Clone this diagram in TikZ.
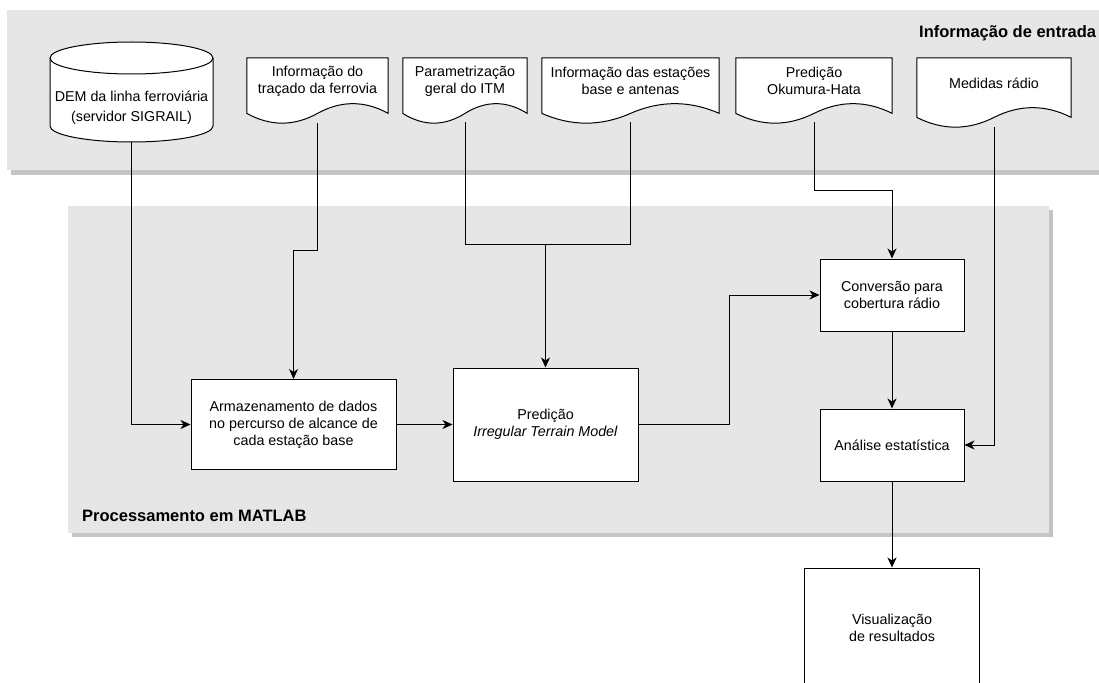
\documentclass[tikz,border=0pt]{standalone}
\usepackage{fontspec}
\setmainfont{Liberation Sans}
\usetikzlibrary{arrows.meta}

\definecolor{panelgray}{HTML}{E6E6E6}
\definecolor{shadowgray}{HTML}{C4C4C4}

\pgfdeclarelayer{panels}
\pgfdeclarelayer{shapes}
\pgfsetlayers{panels,shapes,main}

\newcommand{\boxfont}{\fontsize{14.3}{17}\selectfont}

\tikzset{
    proc/.style={draw, fill=white, line width=1pt, align=center, inner sep=0pt, font=\boxfont},
    doc/.style={align=center, anchor=north, minimum height=46pt, inner sep=2pt, font=\boxfont},
    title/.style={anchor=west, inner sep=0pt, font=\bfseries\fontsize{16.5}{20}\selectfont},
    flow/.style={line width=1pt, -{Stealth[length=10pt,width=9pt,inset=3pt]}},
    link/.style={line width=1pt}
}

% document symbol round node #1, #2 is a sixth of its width
\newcommand{\docshape}[2]{%
    \filldraw[fill=white, line width=1pt] (#1.north west) -- (#1.north east)
        -- ([yshift=-9pt]#1.south east)
        .. controls +(-#2,13) and +(#2,13) .. ([yshift=-9pt]#1.south)
        .. controls +(-#2,-13) and +(#2,-13) .. ([yshift=-9pt]#1.south west) -- cycle;}

\begin{document}
\begin{tikzpicture}[x=1pt, y=1pt]
            \useasboundingbox (0,0) rectangle (1099,-682);

            % input data
            \node[align=center, font=\boxfont] (dem) at (131.5,-108) {DEM da linha ferroviária\\[3pt](servidor SIGRAIL)};
            \coordinate (dembot) at (131.5,-142);

            \node[doc, minimum width=141pt] (tracado) at (317.5,-58) {Informação do\\traçado da ferrovia};
            \node[doc, minimum width=124pt] (param) at (465,-58) {Parametrização\\geral do ITM};
            \node[doc, minimum width=177pt] (estacoes) at (630.5,-58) {Informação das estações\\base e antenas};
            \node[doc, minimum width=156pt] (okumura) at (814,-58) {Predição\\Okumura-Hata};
            \node[doc, minimum width=154pt, minimum height=50pt] (medidas) at (994,-58) {Medidas rádio};

            \node[title] (entrada) at (919,-33) {Informação de entrada};

            % processing
            \node[proc, minimum width=205pt, minimum height=90pt] (armaz) at (293.5,-424.5) {Armazenamento de dados\\no percurso de alcance de\\cada estação base};
            \node[proc, minimum width=185pt, minimum height=113pt] (itm) at (545.5,-424.5) {Predição\\\textit{Irregular Terrain Model}};
            \node[proc, minimum width=144pt, minimum height=72pt] (conv) at (892,-295) {Conversão para\\cobertura rádio};
            \node[proc, minimum width=144pt, minimum height=72pt] (analise) at (892,-445) {Análise estatística};
            \node[proc, minimum width=175pt, minimum height=119pt] (visual) at (892,-627.5) {Visualização\\de resultados};

            \node[title] (matlab) at (82,-516) {Processamento em MATLAB};

            \coordinate (itmjoin) at (545.5,-244);

            \begin{pgfonlayer}{panels}
                \fill[shadowgray] (11,-14) rectangle (1110,-175);
                \fill[panelgray] (7,-10) rectangle (1110,-170);
                \fill[shadowgray] (72,-210) rectangle (1053,-537);
                \fill[panelgray] (68,-206) rectangle (1049,-533);
            \end{pgfonlayer}

            \begin{pgfonlayer}{shapes}
                \filldraw[fill=white, line width=1pt] (50,-58) -- (50,-126)
                    arc[start angle=180, end angle=360, x radius=81.5, y radius=16] -- (213,-58)
                    arc[start angle=0, end angle=180, x radius=81.5, y radius=16] -- cycle;
                \draw[line width=1pt] (50,-58) arc[start angle=180, end angle=360, x radius=81.5, y radius=16];
                \docshape{tracado}{23.5}
                \docshape{param}{20.7}
                \docshape{estacoes}{29.5}
                \docshape{okumura}{26}
                \docshape{medidas}{25.7}
            \end{pgfonlayer}

            \draw[flow] (dembot) |- (armaz);
            \draw[flow, shorten <=19pt] (tracado.south) -- ++(0,-146) -| (armaz);
            \draw[link, shorten <=18pt] (param.south) |- (itmjoin);
            \draw[link, shorten <=18pt] (estacoes.south) |- (itmjoin);
            \draw[flow] (itmjoin) -- (itm);
            \draw[flow] (armaz) -- (itm);
            \draw[flow] (itm.east) -- ++(91,0) |- (conv);
            \draw[flow, shorten <=18pt] (okumura.south) -- ++(0,-86) -| (conv);
            \draw[flow] (conv) -- (analise);
            \draw[flow, shorten <=19pt] (medidas.south) |- (analise);
            \draw[flow] (analise) -- (visual);
        \end{tikzpicture}
\end{document}
